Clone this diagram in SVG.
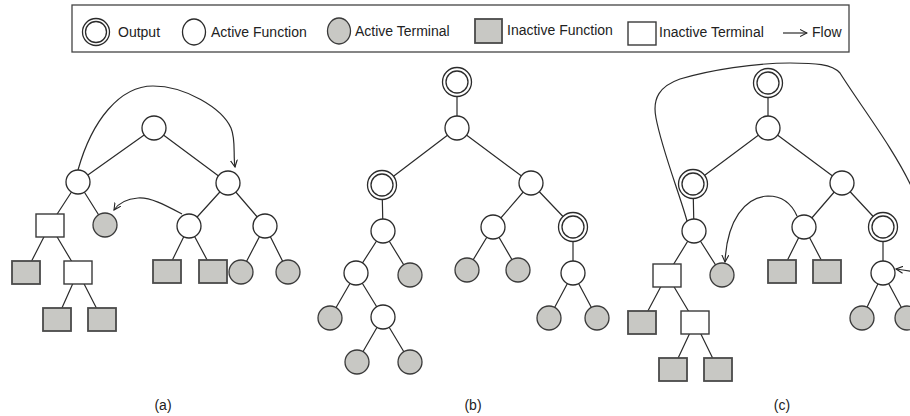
<svg xmlns="http://www.w3.org/2000/svg" width="910" height="416" viewBox="0 0 910 416">
<defs>
<marker id="arr" viewBox="0 0 8 8" refX="7" refY="4" markerWidth="8" markerHeight="8" markerUnits="userSpaceOnUse" orient="auto">
<path d="M0,0.5 L7,4 L0,7.5" fill="none" stroke="#222" stroke-width="1.1"/>
</marker>
<style>
.e{stroke:#2b2b2b;stroke-width:1.2;fill:none}
.fl{stroke:#2b2b2b;stroke-width:1.2;fill:none;marker-end:url(#arr)}
.af{fill:#fff;stroke:#2b2b2b;stroke-width:1.3}
.at{fill:#c8c8c4;stroke:#3a3a3a;stroke-width:1.3}
.if{fill:#c8c8c4;stroke:#4a4a4a;stroke-width:1.8}
.it{fill:#fff;stroke:#3a3a3a;stroke-width:1.4}
.oo{fill:#fff;stroke:#2b2b2b;stroke-width:1.3}
.t{font-family:"Liberation Sans",Arial,sans-serif;font-size:14px;fill:#222}
.lb{font-family:"Liberation Sans",Arial,sans-serif;font-size:14px;fill:#222;text-anchor:middle}
</style>
</defs>
<rect width="910" height="416" fill="#fff"/>

<g id="legend">
<rect x="72" y="5" width="777" height="47" fill="#fff" stroke="#444" stroke-width="1.3"/>
<circle cx="96" cy="32" r="13.5" class="oo"/><circle cx="96" cy="32" r="10.5" class="oo"/>
<text x="118" y="37" class="t">Output</text>
<ellipse cx="194" cy="32" rx="11.5" ry="13" class="af"/>
<text x="211" y="37" class="t">Active Function</text>
<ellipse cx="339" cy="31" rx="11.5" ry="13" class="at"/>
<text x="355" y="36" class="t">Active Terminal</text>
<rect x="475" y="19" width="27" height="24" class="if"/>
<text x="507" y="35" class="t">Inactive Function</text>
<rect x="628" y="22" width="28" height="23" class="it"/>
<text x="659" y="37" class="t">Inactive Terminal</text>
<line x1="783" y1="33" x2="807" y2="33" class="fl"/>
<text x="812" y="37" class="t">Flow</text>
</g>

<g id="connectors">
<!-- tree a -->
<path class="e" d="M154,128 L78,182 M154,128 L228,183 M78,182 L50,225 M78,182 L105,225 M228,183 L189,226 M228,183 L265,226 M50,225 L26,272 M50,225 L78,272 M189,226 L167,271 M189,226 L213,271 M265,226 L241,272 M265,226 L288,272 M78,272 L57,319 M78,272 L102,319"/>
<path class="fl" d="M78,170 C92,120 120,86 153,86 C185,86 222,108 231,128 C236,140 233,155 235,167"/>
<path class="fl" d="M182,214 C165,205 150,197 138,198 C126,199 118,204 114,210"/>
<!-- tree b -->
<path class="e" d="M457,82 L457,128 M457,128 L382,185 M457,128 L531,183 M382,185 L383,231 M383,231 L356,273 M383,231 L410,275 M531,183 L493,227 M531,183 L573,227 M493,227 L467,270 M493,227 L518,270 M573,227 L573,273 M356,273 L330,318 M356,273 L383,317 M573,273 L549,318 M573,273 L597,318 M383,317 L357,362 M383,317 L410,362"/>
<!-- tree c -->
<path class="e" d="M768,83 L768,128 M768,128 L693,184 M768,128 L842,183 M693,184 L694,231 M694,231 L667,275 M694,231 L722,275 M842,183 L804,227 M842,183 L883,227 M804,227 L782,271 M804,227 L827,271 M883,227 L883,273 M667,275 L642,322 M667,275 L695,322 M883,273 L862,318 M883,273 L907,318 M695,322 L673,369 M695,322 L718,369"/>
<path class="e" d="M687,221 C680,195 662,150 656,118 C652,98 660,86 680,79 C710,70 755,63 790,63 C815,63 832,64 840,73 C860,105 895,150 913,190"/>
<path class="fl" d="M915,272 Q905,270 896,269"/>
<path class="fl" d="M797,216 C790,200 778,196 768,196 C745,197 727,220 725,262"/>
</g>

<g id="tree-a">
<circle id="a1" cx="154" cy="128" r="12" class="af"/>
<circle id="a2" cx="78" cy="182" r="12" class="af"/>
<circle id="a3" cx="228" cy="183" r="12" class="af"/>
<rect id="a4" x="36" y="214" width="28" height="23" class="it"/>
<circle id="a5" cx="105" cy="225" r="12" class="at"/>
<circle id="a6" cx="189" cy="226" r="12" class="af"/>
<circle id="a7" cx="265" cy="226" r="12" class="af"/>
<rect id="a8" x="12" y="261" width="28" height="23" class="if"/>
<rect id="a9" x="64" y="261" width="28" height="23" class="it"/>
<rect id="a10" x="153" y="260" width="28" height="23" class="if"/>
<rect id="a11" x="199" y="260" width="28" height="23" class="if"/>
<circle id="a12" cx="241" cy="272" r="12" class="at"/>
<circle id="a13" cx="288" cy="272" r="12" class="at"/>
<rect id="a14" x="43" y="308" width="28" height="23" class="if"/>
<rect id="a15" x="88" y="308" width="28" height="23" class="if"/>
</g>

<g id="tree-b">
<g id="b1"><circle cx="457" cy="82" r="14.5" class="oo"/><circle cx="457" cy="82" r="11" class="oo"/></g>
<circle id="b2" cx="457" cy="128" r="12" class="af"/>
<g id="b3"><circle cx="382" cy="185" r="14.5" class="oo"/><circle cx="382" cy="185" r="11" class="oo"/></g>
<circle id="b4" cx="531" cy="183" r="12" class="af"/>
<circle id="b5" cx="383" cy="231" r="12" class="af"/>
<circle id="b6" cx="493" cy="227" r="12" class="af"/>
<g id="b7"><circle cx="573" cy="227" r="14.5" class="oo"/><circle cx="573" cy="227" r="11" class="oo"/></g>
<circle id="b8" cx="356" cy="273" r="12" class="af"/>
<circle id="b9" cx="410" cy="275" r="12" class="at"/>
<circle id="b10" cx="467" cy="270" r="12" class="at"/>
<circle id="b11" cx="518" cy="270" r="12" class="at"/>
<circle id="b12" cx="573" cy="273" r="12" class="af"/>
<circle id="b13" cx="330" cy="318" r="12" class="at"/>
<circle id="b14" cx="383" cy="317" r="12" class="af"/>
<circle id="b15" cx="549" cy="318" r="12" class="at"/>
<circle id="b16" cx="597" cy="318" r="12" class="at"/>
<circle id="b17" cx="357" cy="362" r="12" class="at"/>
<circle id="b18" cx="410" cy="362" r="12" class="at"/>
</g>

<g id="tree-c">
<g id="c1"><circle cx="768" cy="83" r="14.5" class="oo"/><circle cx="768" cy="83" r="11" class="oo"/></g>
<circle id="c2" cx="768" cy="128" r="12" class="af"/>
<g id="c3"><circle cx="693" cy="184" r="14.5" class="oo"/><circle cx="693" cy="184" r="11" class="oo"/></g>
<circle id="c4" cx="842" cy="183" r="12" class="af"/>
<circle id="c5" cx="694" cy="231" r="12" class="af"/>
<circle id="c6" cx="804" cy="227" r="12" class="af"/>
<g id="c7"><circle cx="883" cy="227" r="14.5" class="oo"/><circle cx="883" cy="227" r="11" class="oo"/></g>
<rect id="c8" x="653" y="264" width="28" height="23" class="it"/>
<circle id="c9" cx="722" cy="275" r="12" class="at"/>
<rect id="c10" x="768" y="260" width="28" height="23" class="if"/>
<rect id="c11" x="813" y="260" width="28" height="23" class="if"/>
<circle id="c12" cx="883" cy="273" r="12" class="af"/>
<rect id="c13" x="628" y="311" width="28" height="23" class="if"/>
<rect id="c14" x="681" y="311" width="28" height="23" class="it"/>
<circle id="c15" cx="862" cy="318" r="12" class="at"/>
<circle id="c16" cx="907" cy="318" r="12" class="at"/>
<rect id="c17" x="659" y="358" width="28" height="23" class="if"/>
<rect id="c18" x="704" y="358" width="28" height="23" class="if"/>
</g>

<g id="labels">
<text x="163" y="410" class="lb">(a)</text>
<text x="473" y="410" class="lb">(b)</text>
<text x="782" y="410" class="lb">(c)</text>
</g>
</svg>
